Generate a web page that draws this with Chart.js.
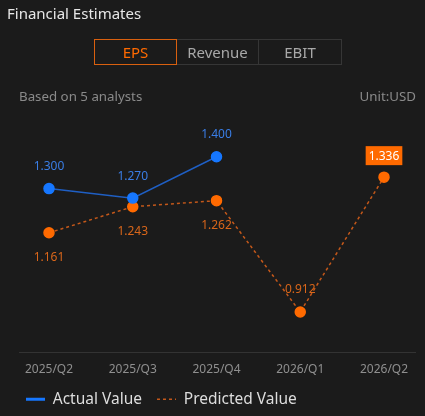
<!DOCTYPE html>
<html><head><meta charset="utf-8">
<script src="https://cdn.jsdelivr.net/npm/chart.js@4/dist/chart.umd.min.js"></script>
<style>
html,body{margin:0;padding:0;background:#1b1b1b;width:425px;height:416px;overflow:hidden;font-family:"Noto Sans",sans-serif;}
#wrap{position:relative;width:425px;height:416px;}
#title{position:absolute;left:7px;top:3px;color:#e6e6e6;font-size:15px;}
#tabs{position:absolute;left:94px;top:39px;display:flex;}
.tab{box-sizing:border-box;height:26px;line-height:24px;text-align:center;font-size:15px;color:#a8a8a8;border:1px solid #363636;}
.tab.active{color:#ff6a00;border-color:#d9600f;}
#sub{position:absolute;left:19px;top:87px;color:#8a8a8a;font-size:13.3px;}
#unit{position:absolute;right:9px;top:87px;color:#8a8a8a;font-size:13.3px;}
canvas{position:absolute;left:0;top:0;}
</style></head>
<body><div id="wrap">
<canvas id="c" width="425" height="416"></canvas>
<div id="title">Financial Estimates</div>
<div id="tabs"><div class="tab active" style="width:83px">EPS</div><div class="tab" style="width:82px;border-left:none">Revenue</div><div class="tab" style="width:83px;border-left:none">EBIT</div></div>
<div id="sub">Based on 5 analysts</div>
<div id="unit">Unit:USD</div>
</div>
<script>
const categories = ["2025/Q2","2025/Q3","2025/Q4","2026/Q1","2026/Q2"];
const actualValues = [1.300, 1.270, 1.400, null, null];
const predictedValues = [1.161, 1.243, 1.262, 0.912, 1.336];
const seriesNames = ["Actual Value","Predicted Value"];

const FONT = '"Noto Sans", sans-serif';

const axisLinePlugin = {
  id: 'axisLine',
  beforeDatasetsDraw(chart){
    const {ctx, chartArea} = chart;
    ctx.save();
    ctx.strokeStyle = '#333333';
    ctx.lineWidth = 1;
    ctx.beginPath();
    ctx.moveTo(19, Math.round(chartArea.bottom)+0.5);
    ctx.lineTo(chart.width-9, Math.round(chartArea.bottom)+0.5);
    ctx.stroke();
    ctx.restore();
  }
};

const labelPlugin = {
  id: 'valueLabels',
  afterDatasetsDraw(chart){
    const {ctx} = chart;
    ctx.save();
    ctx.font = '12px ' + FONT;
    ctx.textAlign = 'center';
    ctx.textBaseline = 'middle';
    chart.data.datasets.forEach((ds, di) => {
      const meta = chart.getDatasetMeta(di);
      const vals = ds.data.filter(v => v != null);
      const minV = Math.min(...vals);
      meta.data.forEach((pt, i) => {
        const v = ds.data[i];
        if (v == null) return;
        const txt = v.toFixed(3);
        if (di === 0) {
          ctx.fillStyle = '#3a7ee6';
          ctx.fillText(txt, pt.x, pt.y - 22);
        } else {
          const last = i === ds.data.length - 1;
          if (last) {
            const w = ctx.measureText(txt).width + 6;
            ctx.fillStyle = '#ff6a00';
            ctx.fillRect(pt.x - w/2, pt.y - 31, w, 19);
            ctx.fillStyle = '#ffffff';
            ctx.fillText(txt, pt.x, pt.y - 21);
          } else if (v === minV) {
            ctx.fillStyle = '#d9661a';
            ctx.fillText(txt, pt.x, pt.y - 22);
          } else {
            ctx.fillStyle = '#d9661a';
            ctx.fillText(txt, pt.x, pt.y + 25);
          }
        }
      });
    });
    ctx.restore();
  }
};

new Chart(document.getElementById('c'), {
  type: 'line',
  data: {
    labels: categories,
    datasets: [
      {label: seriesNames[0], data: actualValues, borderColor: '#1f5fc4', backgroundColor: '#1677ff',
       pointBackgroundColor: '#1677ff', pointBorderColor: '#1677ff', pointRadius: 5, pointHoverRadius: 5,
       borderWidth: 1.5, tension: 0, spanGaps: false},
      {label: seriesNames[1], data: predictedValues, borderColor: '#c4581a', backgroundColor: '#ff6a00',
       pointBackgroundColor: '#ff6a00', pointBorderColor: '#ff6a00', pointRadius: 5, pointHoverRadius: 5,
       borderWidth: 1.5, borderDash: [3,3], tension: 0}
    ]
  },
  options: {
    responsive: false,
    animation: false,
    devicePixelRatio: 1,
    layout: {padding: {left: 11, right: 0, top: 125, bottom: -1}},
    scales: {
      x: {offset: false, grid: {display: false, drawTicks: false}, border: {display: false},
          ticks: {color: '#8f8f8f', font: {size: 12, family: FONT}, padding: 10, maxRotation: 0, autoSkip: false},
          afterFit(s){ s.height = 24.5; }},
      y: {position: 'left', min: 0.786, max: 1.5, grid: {display: false}, border: {display: false},
          ticks: {display: false}, afterFit(s){ s.width = 38; }},
      y2: {position: 'right', min: 0.786, max: 1.5, grid: {display: false}, border: {display: false},
          ticks: {display: false}, afterFit(s){ s.width = 41; }}
    },
    plugins: {
      legend: {position: 'bottom', align: 'start',
        labels: {usePointStyle: true, pointStyle: 'line', pointStyleWidth: 19, boxHeight: 10, color: '#dddddd',
          font: {size: 15.5, family: FONT}, padding: 15,
          generateLabels(chart){
            return chart.data.datasets.map((ds, i) => ({
              text: ds.label, strokeStyle: i === 0 ? '#1677ff' : '#c4581a', fillStyle: 'transparent',
              lineWidth: i === 0 ? 3 : 1.5, lineDash: i === 0 ? [] : [3,3], pointStyle: 'line', datasetIndex: i,
              fontColor: '#dddddd', hidden: false
            }));
          }
        }},
      tooltip: {enabled: false}
    }
  },
  plugins: [axisLinePlugin, labelPlugin]
});
</script>
</body></html>
